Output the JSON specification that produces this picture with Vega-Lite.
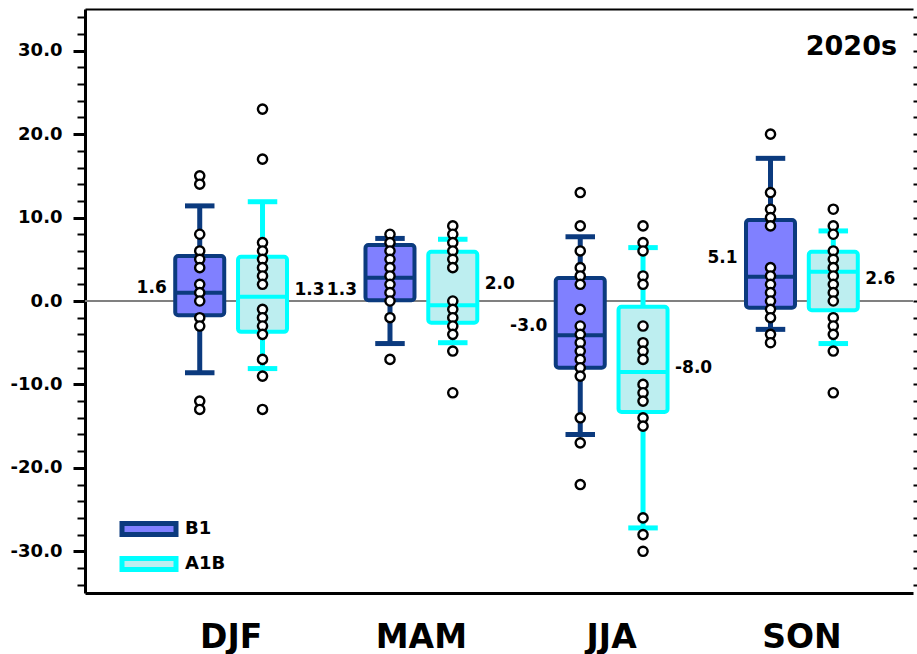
{
  "$schema": "https://vega.github.io/schema/vega-lite/v6.json",
  "width": 828,
  "height": 584,
  "autosize": {"type": "none"},
  "padding": {"left": 85, "top": 9, "right": 4, "bottom": 61},
  "background": "white",
  "config": {
    "view": {"stroke": null},
    "font": "DejaVu Sans",
    "locale": {"number": {"decimal": ".", "thousands": ",", "grouping": [3], "currency": ["$", ""], "minus": "-"}}
  },
  "title": {
    "text": "2020s",
    "anchor": "end",
    "orient": "top",
    "frame": "group",
    "font": "DejaVu Sans",
    "fontSize": 27,
    "fontWeight": "bold",
    "color": "black",
    "baseline": "alphabetic",
    "offset": 0,
    "dy": 73,
    "dx": -16
  },
  "datasets": {
    "boxes": [
      {"season": "DJF", "scenario": "B1", "lo": -8.6, "q1": -1.7, "med": 1.0, "q3": 5.4, "hi": 11.4, "mean": 1.6},
      {"season": "DJF", "scenario": "A1B", "lo": -8.1, "q1": -3.7, "med": 0.5, "q3": 5.3, "hi": 11.9, "mean": 1.3},
      {"season": "MAM", "scenario": "B1", "lo": -5.1, "q1": 0.1, "med": 2.8, "q3": 6.7, "hi": 7.5, "mean": 1.3},
      {"season": "MAM", "scenario": "A1B", "lo": -5.0, "q1": -2.6, "med": -0.5, "q3": 5.9, "hi": 7.4, "mean": 2.0},
      {"season": "JJA", "scenario": "B1", "lo": -16.0, "q1": -8.0, "med": -4.1, "q3": 2.75, "hi": 7.7, "mean": -3.0},
      {"season": "JJA", "scenario": "A1B", "lo": -27.2, "q1": -13.3, "med": -8.5, "q3": -0.7, "hi": 6.4, "mean": -8.0},
      {"season": "SON", "scenario": "B1", "lo": -3.4, "q1": -0.8, "med": 2.9, "q3": 9.7, "hi": 17.1, "mean": 5.1},
      {"season": "SON", "scenario": "A1B", "lo": -5.1, "q1": -1.1, "med": 3.5, "q3": 5.9, "hi": 8.4, "mean": 2.6}
    ],
    "points": [
      {"season": "DJF", "scenario": "B1", "value": 15}, {"season": "DJF", "scenario": "B1", "value": 14},
      {"season": "DJF", "scenario": "B1", "value": 8}, {"season": "DJF", "scenario": "B1", "value": 6},
      {"season": "DJF", "scenario": "B1", "value": 5}, {"season": "DJF", "scenario": "B1", "value": 4},
      {"season": "DJF", "scenario": "B1", "value": 2}, {"season": "DJF", "scenario": "B1", "value": 1},
      {"season": "DJF", "scenario": "B1", "value": 0}, {"season": "DJF", "scenario": "B1", "value": -2},
      {"season": "DJF", "scenario": "B1", "value": -3}, {"season": "DJF", "scenario": "B1", "value": -12},
      {"season": "DJF", "scenario": "B1", "value": -13},
      {"season": "DJF", "scenario": "A1B", "value": 23}, {"season": "DJF", "scenario": "A1B", "value": 17},
      {"season": "DJF", "scenario": "A1B", "value": 7}, {"season": "DJF", "scenario": "A1B", "value": 6},
      {"season": "DJF", "scenario": "A1B", "value": 5}, {"season": "DJF", "scenario": "A1B", "value": 4},
      {"season": "DJF", "scenario": "A1B", "value": 3}, {"season": "DJF", "scenario": "A1B", "value": 2},
      {"season": "DJF", "scenario": "A1B", "value": -1}, {"season": "DJF", "scenario": "A1B", "value": -2},
      {"season": "DJF", "scenario": "A1B", "value": -3}, {"season": "DJF", "scenario": "A1B", "value": -4},
      {"season": "DJF", "scenario": "A1B", "value": -7}, {"season": "DJF", "scenario": "A1B", "value": -9},
      {"season": "DJF", "scenario": "A1B", "value": -13},
      {"season": "MAM", "scenario": "B1", "value": 8}, {"season": "MAM", "scenario": "B1", "value": 7},
      {"season": "MAM", "scenario": "B1", "value": 6}, {"season": "MAM", "scenario": "B1", "value": 5},
      {"season": "MAM", "scenario": "B1", "value": 4}, {"season": "MAM", "scenario": "B1", "value": 3},
      {"season": "MAM", "scenario": "B1", "value": 2}, {"season": "MAM", "scenario": "B1", "value": 1},
      {"season": "MAM", "scenario": "B1", "value": 0}, {"season": "MAM", "scenario": "B1", "value": -2},
      {"season": "MAM", "scenario": "B1", "value": -7},
      {"season": "MAM", "scenario": "A1B", "value": 9}, {"season": "MAM", "scenario": "A1B", "value": 8},
      {"season": "MAM", "scenario": "A1B", "value": 7}, {"season": "MAM", "scenario": "A1B", "value": 6},
      {"season": "MAM", "scenario": "A1B", "value": 5}, {"season": "MAM", "scenario": "A1B", "value": 4},
      {"season": "MAM", "scenario": "A1B", "value": 0}, {"season": "MAM", "scenario": "A1B", "value": -1},
      {"season": "MAM", "scenario": "A1B", "value": -2}, {"season": "MAM", "scenario": "A1B", "value": -3},
      {"season": "MAM", "scenario": "A1B", "value": -4}, {"season": "MAM", "scenario": "A1B", "value": -6},
      {"season": "MAM", "scenario": "A1B", "value": -11},
      {"season": "JJA", "scenario": "B1", "value": 13}, {"season": "JJA", "scenario": "B1", "value": 9},
      {"season": "JJA", "scenario": "B1", "value": 6}, {"season": "JJA", "scenario": "B1", "value": 4},
      {"season": "JJA", "scenario": "B1", "value": 3}, {"season": "JJA", "scenario": "B1", "value": 2},
      {"season": "JJA", "scenario": "B1", "value": -1}, {"season": "JJA", "scenario": "B1", "value": -3},
      {"season": "JJA", "scenario": "B1", "value": -4}, {"season": "JJA", "scenario": "B1", "value": -5},
      {"season": "JJA", "scenario": "B1", "value": -6}, {"season": "JJA", "scenario": "B1", "value": -7},
      {"season": "JJA", "scenario": "B1", "value": -8}, {"season": "JJA", "scenario": "B1", "value": -9},
      {"season": "JJA", "scenario": "B1", "value": -14}, {"season": "JJA", "scenario": "B1", "value": -17},
      {"season": "JJA", "scenario": "B1", "value": -22},
      {"season": "JJA", "scenario": "A1B", "value": 9}, {"season": "JJA", "scenario": "A1B", "value": 7},
      {"season": "JJA", "scenario": "A1B", "value": 6}, {"season": "JJA", "scenario": "A1B", "value": 3},
      {"season": "JJA", "scenario": "A1B", "value": 2}, {"season": "JJA", "scenario": "A1B", "value": -3},
      {"season": "JJA", "scenario": "A1B", "value": -5}, {"season": "JJA", "scenario": "A1B", "value": -6},
      {"season": "JJA", "scenario": "A1B", "value": -7}, {"season": "JJA", "scenario": "A1B", "value": -10},
      {"season": "JJA", "scenario": "A1B", "value": -11}, {"season": "JJA", "scenario": "A1B", "value": -12},
      {"season": "JJA", "scenario": "A1B", "value": -14}, {"season": "JJA", "scenario": "A1B", "value": -15},
      {"season": "JJA", "scenario": "A1B", "value": -26}, {"season": "JJA", "scenario": "A1B", "value": -28},
      {"season": "JJA", "scenario": "A1B", "value": -30},
      {"season": "SON", "scenario": "B1", "value": 20}, {"season": "SON", "scenario": "B1", "value": 13},
      {"season": "SON", "scenario": "B1", "value": 11}, {"season": "SON", "scenario": "B1", "value": 10},
      {"season": "SON", "scenario": "B1", "value": 9}, {"season": "SON", "scenario": "B1", "value": 4},
      {"season": "SON", "scenario": "B1", "value": 3}, {"season": "SON", "scenario": "B1", "value": 2},
      {"season": "SON", "scenario": "B1", "value": 1}, {"season": "SON", "scenario": "B1", "value": 0},
      {"season": "SON", "scenario": "B1", "value": -1}, {"season": "SON", "scenario": "B1", "value": -2},
      {"season": "SON", "scenario": "B1", "value": -4}, {"season": "SON", "scenario": "B1", "value": -5},
      {"season": "SON", "scenario": "A1B", "value": 11}, {"season": "SON", "scenario": "A1B", "value": 9},
      {"season": "SON", "scenario": "A1B", "value": 8}, {"season": "SON", "scenario": "A1B", "value": 6},
      {"season": "SON", "scenario": "A1B", "value": 5}, {"season": "SON", "scenario": "A1B", "value": 4},
      {"season": "SON", "scenario": "A1B", "value": 3}, {"season": "SON", "scenario": "A1B", "value": 2},
      {"season": "SON", "scenario": "A1B", "value": 1}, {"season": "SON", "scenario": "A1B", "value": 0},
      {"season": "SON", "scenario": "A1B", "value": -2}, {"season": "SON", "scenario": "A1B", "value": -3},
      {"season": "SON", "scenario": "A1B", "value": -4}, {"season": "SON", "scenario": "A1B", "value": -6},
      {"season": "SON", "scenario": "A1B", "value": -11}
    ]
  },
  "layer": [
    {
      "data": {"values": [{}]},
      "mark": {"type": "rule", "color": "#808080", "strokeWidth": 2},
      "encoding": {
        "y": {
          "datum": 0, "type": "quantitative",
          "scale": {"domain": [-35, 35], "nice": false, "zero": false},
          "axis": {
            "orient": "left", "values": [-30, -20, -10, 0, 10, 20, 30], "format": ".1f",
            "tickSize": 12, "tickWidth": 3, "tickColor": "black",
            "domain": true, "domainWidth": 3, "domainColor": "black",
            "labelFont": "DejaVu Sans", "labelFontWeight": "bold", "labelFontSize": 18, "labelColor": "black",
            "labelPadding": 11, "grid": false, "title": null
          }
        }
      }
    },
    {
      "data": {"name": "boxes"},
      "mark": {"type": "rule", "strokeWidth": 5},
      "encoding": {
        "x": {
          "field": "season", "type": "nominal", "sort": ["DJF", "MAM", "JJA", "SON"],
          "scale": {"paddingInner": 0.34, "paddingOuter": 0.346, "align": 0.633},
          "axis": {
            "orient": "bottom", "domain": true, "domainWidth": 3, "domainColor": "black",
            "ticks": false, "tickSize": 0, "labelAngle": 0,
            "labelFont": "DejaVu Sans", "labelFontWeight": "bold", "labelFontSize": 33, "labelColor": "black",
            "labelBaseline": "alphabetic", "labelPadding": 54, "grid": false, "title": null
          }
        },
        "xOffset": {"field": "scenario", "type": "nominal", "sort": ["B1", "A1B"], "scale": {"paddingInner": 0, "paddingOuter": 0}},
        "y": {
          "field": "lo", "type": "quantitative",
          "scale": {"domain": [-35, 35], "nice": false, "zero": false},
          "axis": {
            "orient": "left", "values": [-34, -32, -28, -26, -24, -22, -18, -16, -14, -12, -8, -6, -4, -2, 2, 4, 6, 8, 12, 14, 16, 18, 22, 24, 26, 28, 32, 34],
            "tickSize": 8, "tickWidth": 2, "tickColor": "black", "labels": false,
            "domain": false, "grid": false, "title": null
          }
        },
        "y2": {"field": "hi"},
        "stroke": {"field": "scenario", "type": "nominal"}
      }
    },
    {
      "data": {"name": "boxes"},
      "mark": {"type": "bar", "size": 49, "strokeWidth": 4, "cornerRadius": 3, "opacity": 1},
      "encoding": {
        "x": {
          "field": "season", "type": "nominal", "sort": ["DJF", "MAM", "JJA", "SON"],
          "axis": {"orient": "top", "domain": true, "domainWidth": 2, "domainColor": "black", "ticks": false, "labels": false, "grid": false, "title": null}
        },
        "xOffset": {"field": "scenario", "type": "nominal", "sort": ["B1", "A1B"]},
        "y": {
          "field": "q1", "type": "quantitative",
          "scale": {"domain": [-35, 35], "nice": false, "zero": false},
          "axis": {
            "orient": "right", "values": [-34, -32, -30, -28, -26, -24, -22, -20, -18, -16, -14, -12, -10, -8, -6, -4, -2, 0, 2, 4, 6, 8, 10, 12, 14, 16, 18, 20, 22, 24, 26, 28, 30, 32, 34],
            "tickSize": 6, "tickWidth": 2, "tickColor": "black", "labels": false,
            "domain": false, "grid": false, "title": null
          }
        },
        "y2": {"field": "q3"},
        "fill": {
          "field": "scenario", "type": "nominal",
          "scale": {"domain": ["B1", "A1B"], "range": ["#8080FF", "#BDEEF0"]},
          "legend": {
            "orient": "none", "legendX": 48, "legendY": 504, "title": null, "padding": 0,
            "symbolType": "M-2,-0.4H2V0.4H-2Z", "symbolSize": 729, "symbolStrokeWidth": 5, "symbolOpacity": 1,
            "labelFont": "DejaVu Sans", "labelFontWeight": "bold", "labelFontSize": 18, "labelColor": "black",
            "labelOffset": 20, "rowPadding": 3
          }
        },
        "stroke": {
          "field": "scenario", "type": "nominal",
          "scale": {"domain": ["B1", "A1B"], "range": ["#0B3A7E", "#00FFFF"]},
          "legend": {
            "orient": "none", "legendX": 48, "legendY": 504, "title": null, "padding": 0,
            "symbolType": "M-2,-0.4H2V0.4H-2Z", "symbolSize": 729, "symbolStrokeWidth": 5, "symbolOpacity": 1,
            "labelFont": "DejaVu Sans", "labelFontWeight": "bold", "labelFontSize": 18, "labelColor": "black",
            "labelOffset": 20, "rowPadding": 3
          }
        }
      }
    },
    {
      "data": {"name": "boxes"},
      "mark": {"type": "tick", "filled": false, "size": 45, "thickness": 0.5, "strokeWidth": 3.5, "opacity": 1},
      "encoding": {
        "x": {"field": "season", "type": "nominal", "sort": ["DJF", "MAM", "JJA", "SON"], "axis": null},
        "xOffset": {"field": "scenario", "type": "nominal", "sort": ["B1", "A1B"]},
        "y": {"field": "med", "type": "quantitative", "scale": {"domain": [-35, 35], "nice": false, "zero": false}, "axis": null},
        "stroke": {"field": "scenario", "type": "nominal"}
      }
    },
    {
      "data": {"name": "boxes"},
      "mark": {"type": "tick", "filled": false, "size": 25, "thickness": 0.5, "strokeWidth": 4.5, "opacity": 1},
      "encoding": {
        "x": {"field": "season", "type": "nominal", "sort": ["DJF", "MAM", "JJA", "SON"], "axis": null},
        "xOffset": {"field": "scenario", "type": "nominal", "sort": ["B1", "A1B"]},
        "y": {"field": "lo", "type": "quantitative", "scale": {"domain": [-35, 35], "nice": false, "zero": false}, "axis": null},
        "stroke": {"field": "scenario", "type": "nominal"}
      }
    },
    {
      "data": {"name": "boxes"},
      "mark": {"type": "tick", "filled": false, "size": 25, "thickness": 0.5, "strokeWidth": 4.5, "opacity": 1},
      "encoding": {
        "x": {"field": "season", "type": "nominal", "sort": ["DJF", "MAM", "JJA", "SON"], "axis": null},
        "xOffset": {"field": "scenario", "type": "nominal", "sort": ["B1", "A1B"]},
        "y": {"field": "hi", "type": "quantitative", "scale": {"domain": [-35, 35], "nice": false, "zero": false}, "axis": null},
        "stroke": {"field": "scenario", "type": "nominal"}
      }
    },
    {
      "data": {"name": "points"},
      "mark": {"type": "circle", "size": 85, "fill": "white", "stroke": "black", "strokeWidth": 2.4, "opacity": 1},
      "encoding": {
        "x": {"field": "season", "type": "nominal", "sort": ["DJF", "MAM", "JJA", "SON"], "axis": null},
        "xOffset": {"field": "scenario", "type": "nominal", "sort": ["B1", "A1B"]},
        "y": {"field": "value", "type": "quantitative", "scale": {"domain": [-35, 35], "nice": false, "zero": false}, "axis": null}
      }
    },
    {
      "data": {"name": "boxes"},
      "transform": [{"filter": "datum.scenario === 'B1'"}],
      "mark": {"type": "text", "align": "right", "baseline": "middle", "dx": -33, "font": "DejaVu Sans", "fontWeight": "bold", "fontSize": 17, "color": "black"},
      "encoding": {
        "x": {"field": "season", "type": "nominal", "sort": ["DJF", "MAM", "JJA", "SON"], "axis": null},
        "xOffset": {"field": "scenario", "type": "nominal", "sort": ["B1", "A1B"]},
        "y": {"field": "mean", "type": "quantitative", "scale": {"domain": [-35, 35], "nice": false, "zero": false}, "axis": null},
        "text": {"field": "mean", "type": "quantitative", "format": ".1f"}
      }
    },
    {
      "data": {"name": "boxes"},
      "transform": [{"filter": "datum.scenario === 'A1B'"}],
      "mark": {"type": "text", "align": "left", "baseline": "middle", "dx": 32, "font": "DejaVu Sans", "fontWeight": "bold", "fontSize": 17, "color": "black"},
      "encoding": {
        "x": {"field": "season", "type": "nominal", "sort": ["DJF", "MAM", "JJA", "SON"], "axis": null},
        "xOffset": {"field": "scenario", "type": "nominal", "sort": ["B1", "A1B"]},
        "y": {"field": "mean", "type": "quantitative", "scale": {"domain": [-35, 35], "nice": false, "zero": false}, "axis": null},
        "text": {"field": "mean", "type": "quantitative", "format": ".1f"}
      }
    }
  ],
  "resolve": {"axis": {"x": "independent", "y": "independent"}}
}
